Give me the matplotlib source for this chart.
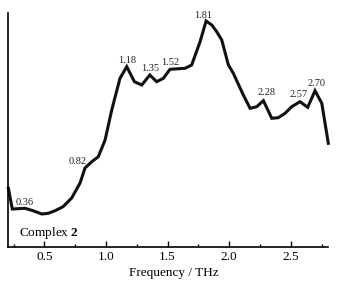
import matplotlib
matplotlib.use("Agg")
import matplotlib.pyplot as plt
from matplotlib.ticker import MultipleLocator

plt.rcParams['font.family'] = ['Liberation Serif', 'DejaVu Serif']
plt.rcParams['mathtext.fontset'] = 'custom'
plt.rcParams['mathtext.rm'] = 'Liberation Serif'
plt.rcParams['mathtext.bf'] = 'Liberation Serif:bold'

# Frequency (THz) and absorption (arbitrary units)
freq = [0.208, 0.240, 0.343, 0.408, 0.479, 0.532, 0.587, 0.652, 0.722, 0.790,
        0.830, 0.885, 0.938, 0.993, 1.047, 1.114, 1.169, 1.231, 1.291, 1.356,
        1.412, 1.466, 1.520, 1.642, 1.696, 1.764, 1.813, 1.859, 1.899, 1.940,
        1.994, 2.034, 2.115, 2.170, 2.224, 2.278, 2.346, 2.399, 2.454, 2.508,
        2.575, 2.638, 2.697, 2.752, 2.805]
absorb = [58.7, 38.0, 38.7, 36.3, 33.0, 33.7, 36.3, 40.3, 49.0, 64.0,
          79.0, 85.3, 90.3, 107.0, 137.0, 168.7, 180.3, 165.3, 162.0, 172.0,
          165.3, 168.7, 177.7, 178.7, 182.0, 205.3, 226.0, 222.0, 215.3, 207.0,
          182.0, 173.7, 152.0, 138.7, 140.3, 146.3, 128.7, 129.3, 133.7, 140.3,
          145.3, 139.7, 156.3, 143.7, 103.7]

peak_labels = ["0.36", "0.82", "1.18", "1.35", "1.52", "1.81", "2.28", "2.57", "2.70"]
peak_x = [0.343, 0.770, 1.171, 1.362, 1.520, 1.788, 2.300, 2.560, 2.706]
peak_y = [41.7, 82.7, 183.7, 176.0, 182.0, 228.7, 152.0, 150.0, 161.0]

fig = plt.figure(figsize=(3.49, 2.84), dpi=100)
ax = fig.add_axes([8/349, 1 - 247/284, (327.7 - 8)/349, (247 - 13)/284])

ax.plot(freq, absorb, color='#111111', lw=2.2, solid_joinstyle='miter', clip_on=False)

for lab, px, py in zip(peak_labels, peak_x, peak_y):
    ax.text(px, py, lab, ha='center', va='baseline', fontsize=7.5, color='#222222')

ax.text(0.295, 10.7, r'Complex $\mathbf{2}$', ha='left', va='baseline', fontsize=9.5)

ax.set_xlim(0.205, 2.80)
ax.set_ylim(0, 234)
ax.xaxis.set_major_locator(MultipleLocator(0.5))
ax.xaxis.set_minor_locator(MultipleLocator(0.25))
ax.tick_params(axis='x', which='major', direction='in', length=4, width=1, labelsize=9.5, pad=3)
ax.tick_params(axis='x', which='minor', direction='in', length=2.5, width=1)
ax.set_yticks([])
ax.spines['top'].set_visible(False)
ax.spines['right'].set_visible(False)
ax.spines['left'].set_linewidth(1.2)
ax.spines['bottom'].set_linewidth(1.2)
ax.set_xlabel('Frequency / THz', fontsize=9.5, labelpad=1)
ax.xaxis.set_label_coords((174 - 8)/(327.7 - 8), -0.085)

fig.savefig('out.png', dpi=100)
